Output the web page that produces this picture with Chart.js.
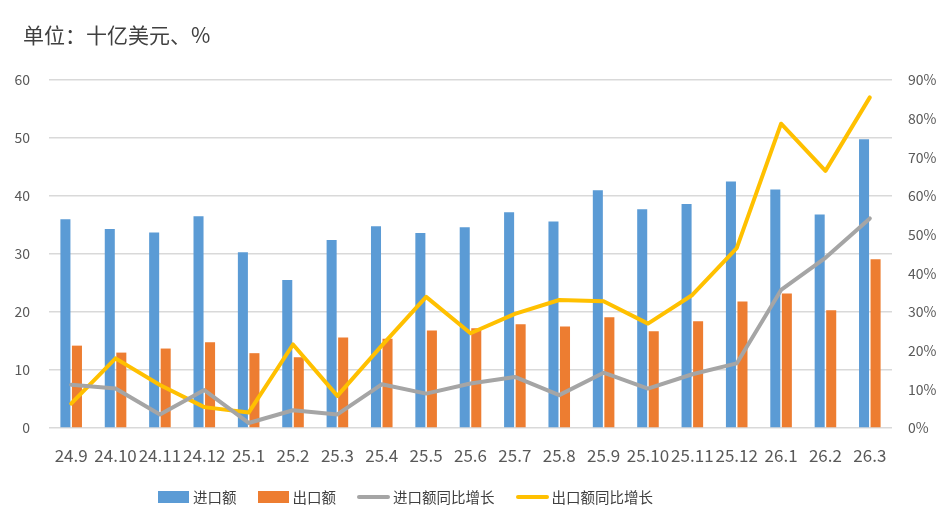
<!DOCTYPE html>
<html>
<head>
<meta charset="utf-8">
<script src="https://cdn.jsdelivr.net/npm/chart.js@4.4.1/dist/chart.umd.min.js"></script>
<style>
  body { margin:0; background:#fff; }
  #wrap { position:relative; width:952px; height:529px; font-family:"Noto Sans CJK SC", sans-serif; color:#595959; }
  #title { position:absolute; left:23px; top:19px; font-size:21px; line-height:30px; color:#404040; }
  #legend { position:absolute; left:158px; top:485px; display:flex; align-items:center; font-size:14.5px; line-height:24px; color:#404040; }
  .item { display:flex; align-items:center; margin-right:21px; }
  .box { width:31px; height:12px; margin-right:4px; }
  .ln { width:33px; height:4px; border-radius:2px; margin-right:3px; }
</style>
</head>
<body>
<div id="wrap">
  <canvas id="chart" width="952" height="529"></canvas>
  <div id="title">单位：十亿美元、%</div>
  <div id="legend">
    <div class="item"><div class="box" style="background:#5B9BD5"></div>进口额</div>
    <div class="item"><div class="box" style="background:#ED7D31"></div>出口额</div>
    <div class="item"><div class="ln" style="background:#A5A5A5"></div>进口额同比增长</div>
    <div class="item"><div class="ln" style="background:#FFC000"></div>出口额同比增长</div>
  </div>
</div>
<script>
let months = ["24.9","24.10","24.11","24.12","25.1","25.2","25.3","25.4","25.5","25.6","25.7","25.8","25.9","25.10","25.11","25.12","26.1","26.2","26.3"];
let importAmt = [36.0,34.3,33.7,36.5,30.3,25.5,32.4,34.8,33.6,34.6,37.2,35.6,41.0,37.7,38.6,42.5,41.1,36.8,49.8];
let exportAmt = [14.2,13.0,13.7,14.8,12.9,12.2,15.6,15.4,16.8,17.2,17.9,17.5,19.1,16.7,18.4,21.8,23.2,20.3,29.1];
let importYoy = [11.2,10.2,3.5,9.8,1.3,4.6,3.5,11.3,8.9,11.5,13.2,8.5,14.3,10.2,13.9,16.7,35.7,44.0,54.2];
let exportYoy = [6.3,18.0,11.1,5.4,4.0,21.6,8.3,21.3,33.9,24.5,29.5,33.1,32.8,27.0,34.4,46.5,78.7,66.5,85.5];

let tickFont = {family:"Noto Sans CJK SC", size:14};

let chart = new Chart(document.getElementById("chart"), {
    type:"bar",
    data:{
        labels:months,
        datasets:[
            {
                label:"进口额",
                data:importAmt,
                backgroundColor:"#5B9BD5",
                yAxisID:"y",
                order:2,
                categoryPercentage:0.52,
                barPercentage:0.87
            },
            {
                label:"出口额",
                data:exportAmt,
                backgroundColor:"#ED7D31",
                yAxisID:"y",
                order:2,
                categoryPercentage:0.52,
                barPercentage:0.87
            },
            {
                type:"line",
                label:"进口额同比增长",
                data:importYoy,
                borderColor:"#A5A5A5",
                backgroundColor:"#A5A5A5",
                borderWidth:4,
                pointRadius:0,
                tension:0,
                borderJoinStyle:"round",
                borderCapStyle:"round",
                yAxisID:"y1",
                order:1
            },
            {
                type:"line",
                label:"出口额同比增长",
                data:exportYoy,
                borderColor:"#FFC000",
                backgroundColor:"#FFC000",
                borderWidth:4,
                pointRadius:0,
                tension:0,
                borderJoinStyle:"round",
                borderCapStyle:"round",
                yAxisID:"y1",
                order:1
            }
        ]
    },
    options:{
        responsive:false,
        animation:false,
        layout:{ padding:{ top:80, left:0, right:0, bottom:0 } },
        plugins:{
            legend:{ display:false },
            tooltip:{ enabled:false }
        },
        scales:{
            x:{
                grid:{ display:false, drawTicks:false },
                border:{ display:false },
                ticks:{
                    color:"#595959",
                    font:{family:"Noto Sans CJK SC", size:17},
                    maxRotation:0,
                    autoSkip:false,
                    padding:17
                },
                afterFit:function(s){ s.height = 101; }
            },
            y:{
                position:"left",
                min:0, max:60,
                ticks:{ stepSize:10, color:"#595959", font:tickFont, padding:19 },
                grid:{ color:"#D9D9D9", lineWidth:1.5, drawTicks:false },
                border:{ display:false },
                afterFit:function(s){ s.width = 49; }
            },
            y1:{
                position:"right",
                min:0, max:90,
                ticks:{
                    stepSize:10,
                    color:"#595959",
                    font:tickFont,
                    padding:16,
                    callback:function(v){ return v + "%"; }
                },
                grid:{ display:false, drawTicks:false },
                border:{ display:false },
                afterFit:function(s){ s.width = 60; }
            }
        }
    }
});
</script>
</body>
</html>
